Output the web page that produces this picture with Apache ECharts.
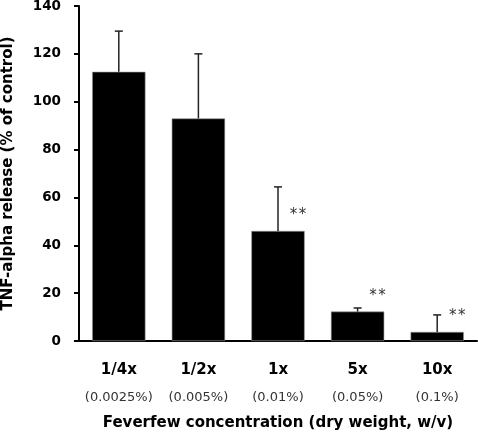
<!DOCTYPE html>
<html>
<head>
<meta charset="utf-8">
<script src="https://cdn.jsdelivr.net/npm/echarts@6/dist/echarts.min.js"></script>
<style>html,body{margin:0;padding:0;background:#fff}#c{width:478px;height:434px}</style>
</head>
<body>
<div id="c"></div>
<script>
var categories = ['1/4x', '1/2x', '1x', '5x', '10x'];
var subLabels = ['(0.0025%)', '(0.005%)', '(0.01%)', '(0.05%)', '(0.1%)'];
var means = [112.5, 93, 46, 12.3, 3.8];
var errors = [17, 27, 18.4, 1.5, 7.1];
var significance = ['', '', '**', '**', '**'];
var yTicks = [0, 20, 40, 60, 80, 100, 120, 140];

var FONT = 'DejaVu Sans';
var chart = echarts.init(document.getElementById('c'), null, {renderer: 'canvas'});
chart.setOption({
  animation: false,
  backgroundColor: '#fff',
  grid: {left: 79, right: 1, top: 6, bottom: 93, containLabel: false, outerBoundsMode: 'none'},
  xAxis: {
    type: 'category',
    data: categories.map(function (c, i) { return c + '\n' + subLabels[i]; }),
    axisLine: {lineStyle: {color: '#000', width: 2}},
    axisTick: {length: 5, lineStyle: {color: '#000', width: 2}},
    axisLabel: {
      margin: 16,
      interval: 0,
      formatter: function (v) { var p = v.split('\n'); return '{a|' + p[0] + '}\n{b|' + p[1] + '}'; },
      rich: {
        a: {fontFamily: FONT, fontWeight: 'bold', fontSize: 15, color: '#000', lineHeight: 27},
        b: {fontFamily: FONT, fontSize: 13, color: '#333', lineHeight: 27}
      }
    },
    name: 'Feverfew concentration (dry weight, w/v)',
    nameLocation: 'middle',
    nameGap: 75,
    nameTextStyle: {fontFamily: FONT, fontWeight: 'bold', fontSize: 15, color: '#000'}
  },
  yAxis: {
    type: 'value',
    min: yTicks[0], max: yTicks[yTicks.length - 1], interval: yTicks[1] - yTicks[0],
    splitLine: {show: false},
    axisLine: {show: true, lineStyle: {color: '#000', width: 2}},
    axisTick: {show: true, length: 5, lineStyle: {color: '#000', width: 2}},
    axisLabel: {margin: 18, fontFamily: FONT, fontWeight: 'bold', fontSize: 13.5, color: '#000'},
    name: 'TNF-alpha release (% of control)',
    nameLocation: 'middle',
    nameGap: 63,
    nameTextStyle: {fontFamily: FONT, fontWeight: 'bold', fontSize: 15, color: '#000'}
  },
  series: [
    {
      type: 'bar',
      data: means,
      barWidth: '67%',
      itemStyle: {color: '#000', borderColor: '#999', borderWidth: 0.6},
      label: {
        show: true,
        position: 'top',
        distance: 0,
        offset: [20, -8],
        formatter: function (p) { return significance[p.dataIndex] ? '*\u200A*' : ''; },
        fontFamily: FONT, fontSize: 15, color: '#333'
      }
    },
    {
      type: 'custom',
      data: means.map(function (m, i) { return [i, m, m + errors[i]]; }),
      z: 5,
      renderItem: function (params, api) {
        var lo = api.coord([api.value(0), api.value(1)]);
        var hi = api.coord([api.value(0), api.value(2)]);
        var hw = 4;
        var st = {stroke: '#222', lineWidth: 1.5};
        return {
          type: 'group',
          children: [
            {type: 'line', shape: {x1: lo[0], y1: lo[1], x2: hi[0], y2: hi[1]}, style: st},
            {type: 'line', shape: {x1: hi[0] - hw, y1: hi[1], x2: hi[0] + hw, y2: hi[1]}, style: st}
          ]
        };
      }
    }
  ]
});
</script>
</body>
</html>
